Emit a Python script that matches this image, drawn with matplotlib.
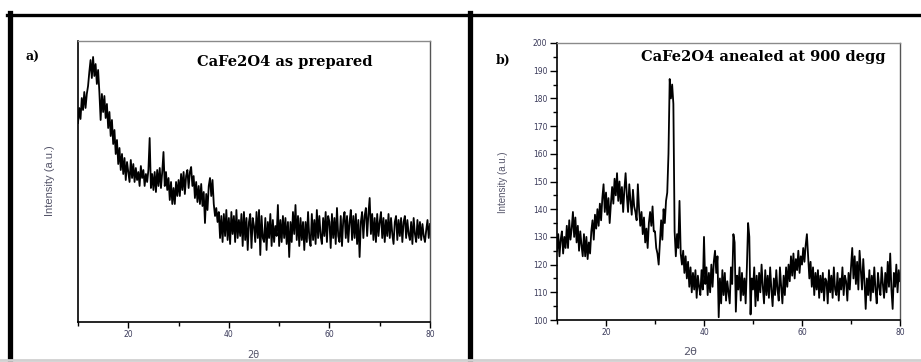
import matplotlib
matplotlib.use("Agg")
import matplotlib.pyplot as plt
import numpy as np
from matplotlib.lines import Line2D
from matplotlib.ticker import MultipleLocator

# ---------------- data ----------------
x_start, x_step = 10.0, 0.25

# panel a) : CaFe2O4 as prepared (arbitrary units)
int_a = [
    199, 214, 203, 224,   212, 230, 214, 228,   236, 250, 262, 244,
    265, 246, 258, 238,   252, 230, 202, 228,   210, 226, 204, 218,
    194, 210, 186, 202,   178, 192, 168, 182,   158, 174, 152, 168,
    148, 164, 142, 160,   150, 140, 162, 144,   158, 140, 154, 142,
    150, 136, 156, 144,   152, 136, 148, 140,   152, 184, 134, 148,
    132, 150, 130, 152,   136, 154, 134, 150,   170, 136, 150, 132,
    144, 122, 140, 118,   134, 118, 140, 126,   142, 126, 148, 132,
    150, 128, 146, 152,   134, 150, 155, 136,   146, 124, 140, 120,
    136, 118, 138, 116,   130, 99, 128, 112,    136, 144, 126, 142,
    118, 106, 114, 100,   110, 84, 106, 80,    108, 86, 112, 82,
    104, 78, 110, 88,     106, 80, 112, 84,    102, 86, 108, 76,
    110, 82, 104, 72,     100, 108, 74, 104,   96, 80, 110, 84,
    112, 67, 106, 84,     80, 104, 72, 100,    84, 108, 76, 102,
    80, 96, 86, 117,      76, 102, 80, 106,    84, 104, 78, 100,
    65, 100, 80, 110,     88, 117, 82, 106,    76, 104, 82, 100,
    72, 100, 80, 110,     84, 76, 108, 82,     102, 78, 112, 84,
    106, 86, 78, 104,     86, 110, 80, 106,    100, 74, 108, 84,
    104, 78, 114, 86,     80, 106, 76, 102,    110, 84, 106, 80,
    100, 112, 82, 106,    84, 108, 78, 102,    65, 100, 110, 84,
    106, 114, 86, 108,    124, 88, 108, 82,    104, 80, 108, 86,
    100, 110, 84, 104,    80, 102, 86, 108,    84, 104, 88, 78,
    100, 106, 82, 102,    86, 104, 80, 100,    106, 84, 102, 88,
    82, 100, 78, 104,     88, 80, 102, 84,     100, 82, 98, 86,
    80, 92, 102, 84,      98,
]

# panel b) : CaFe2O4 annealed at 900 deg
int_b = [
    125, 131, 123, 129,   132, 124, 130, 126,   134, 126, 136, 129,
    133, 139, 130, 137,   128, 134, 125, 132,   127, 123, 131, 123,
    130, 122, 128, 124,   132, 136, 129, 138,   133, 140, 134, 142,
    136, 144, 149, 139,   146, 138, 144, 135,   142, 148, 142, 151,
    145, 153, 143, 150,   142, 148, 139, 147,   153, 145, 139, 149,
    143, 138, 147, 141,   139, 136, 149, 140,   134, 139, 131, 137,
    128, 133, 126, 135,   139, 134, 141, 132,   132, 126, 124, 120,
    128, 136, 129, 140,   135, 143, 146, 160,   187, 180, 185, 178,
    132, 123, 131, 126,   143, 124, 120, 125,   117, 123, 115, 121,
    112, 119, 110, 117,   111, 118, 108, 116,   112, 109, 118, 111,
    130, 113, 119, 109,   117, 110, 120, 112,   121, 125, 117, 123,
    101, 115, 106, 118,   109, 117, 107, 114,   110, 106, 119, 113,
    131, 128, 103, 116,   111, 119, 107, 117,   109, 115, 106, 119,
    135, 130, 102, 115,   111, 119, 105, 116,   107, 117, 110, 120,
    112, 106, 118, 109,   116, 108, 119, 111,   105, 115, 109, 118,
    111, 107, 119, 112,   106, 116, 109, 119,   112, 120, 114, 123,
    116, 124, 115, 122,   118, 125, 117, 123,   120, 126, 121, 127,
    131, 123, 115, 121,   112, 119, 109, 117,   111, 118, 108, 116,
    110, 117, 107, 115,   114, 106, 118, 110,   116, 108, 119, 111,
    109, 117, 107, 115,   111, 119, 109, 116,   114, 107, 117, 111,
    119, 126, 115, 123,   113, 121, 111, 125,   118, 111, 122, 114,
    104, 115, 109, 118,   107, 116, 110, 119,   111, 106, 117, 112,
    109, 119, 113, 108,   117, 110, 121, 112,   124, 111, 104, 117,
    112, 120, 110, 118,   114,
]

x_ticks = [20, 40, 60, 80]
y_ticks_b = [100, 110, 120, 130, 140, 150, 160, 170, 180, 190, 200]
title_a = "CaFe2O4 as prepared"
title_b = "CaFe2O4 anealed at 900 degg"

tth_a = x_start + x_step * np.arange(len(int_a))
tth_b = x_start + x_step * np.arange(len(int_b))

# ---------------- figure ----------------
W, H = 921, 362
fig = plt.figure(figsize=(W / 100, H / 100), dpi=100)
fig.patch.set_facecolor("white")

tick_col = "#3a3a5a"
lab_col = "#55556a"

def setup_axes(ax):
    for s in ["left", "bottom"]:
        ax.spines[s].set_color("black")
        ax.spines[s].set_linewidth(1.2)
    ax.spines["top"].set_color("#8a8a8a")
    ax.spines["top"].set_linewidth(1.0)
    ax.spines["right"].set_color("#555555")
    ax.spines["right"].set_linewidth(1.0)
    ax.set_xlim(10, 80)
    ax.xaxis.set_major_locator(plt.FixedLocator(x_ticks))
    ax.xaxis.set_minor_locator(MultipleLocator(10))
    ax.tick_params(axis="x", which="major", direction="out", length=4,
                   width=1.0, labelsize=5.5, labelcolor=tick_col, pad=2)
    ax.tick_params(axis="x", which="minor", direction="out", length=3,
                   width=1.0)
    ax.tick_params(top=False, right=False)

# panel a
axa = fig.add_axes([78 / W, 1 - 322 / H, 352 / W, 281 / H])
axa.plot(tth_a, int_a, color="black", lw=1.3)
setup_axes(axa)
axa.set_ylim(0, 281)
axa.set_yticks([])
axa.text(0.588, 0.925, title_a, transform=axa.transAxes, ha="center",
         va="center", fontsize=10.5, fontweight="bold", family="DejaVu Serif")

# panel b
axb = fig.add_axes([557 / W, 1 - 320 / H, 343 / W, 277 / H])
axb.plot(tth_b, int_b, color="black", lw=1.3)
setup_axes(axb)
axb.set_ylim(100, 200)
axb.set_yticks(y_ticks_b)
axb.yaxis.set_minor_locator(MultipleLocator(5))
axb.tick_params(axis="y", which="major", direction="out", length=5,
                width=1.0, labelsize=5.5, labelcolor=tick_col, pad=2)
axb.tick_params(axis="y", which="minor", direction="out", length=3, width=1.0)
axb.text(0.60, 0.949, title_b, transform=axb.transAxes, ha="center",
         va="center", fontsize=10.5, fontweight="bold", family="DejaVu Serif")

# panel letters
fig.text(33 / W, 1 - 57 / H, "a)", ha="center", va="center", fontsize=9,
         fontweight="bold", family="DejaVu Serif")
fig.text(503 / W, 1 - 60 / H, "b)", ha="center", va="center", fontsize=9,
         fontweight="bold", family="DejaVu Serif")

# axis labels
fig.text(50 / W, 1 - 181 / H, "Intensity (a.u.)", rotation=90, ha="center",
         va="center", fontsize=8, color=lab_col, family="Liberation Sans")
fig.text(503 / W, 1 - 182 / H, "Intensity (a.u.)", rotation=90, ha="center",
         va="center", fontsize=7, color=lab_col, family="Liberation Sans")
fig.text(253 / W, 1 - 355 / H, "2θ", ha="center", va="center", fontsize=7,
         color=lab_col, family="DejaVu Sans")
fig.text(690 / W, 1 - 352 / H, "2θ", ha="center", va="center", fontsize=8,
         color=lab_col, family="DejaVu Sans")

# outer frame lines
fig.add_artist(Line2D([7 / W, 1.0], [1 - 14.5 / H, 1 - 14.5 / H],
                      transform=fig.transFigure, color="black", lw=2.4))
fig.add_artist(Line2D([10 / W, 10 / W], [0, 1 - 13 / H],
                      transform=fig.transFigure, color="black", lw=3.8))
fig.add_artist(Line2D([470 / W, 470 / W], [0, 1 - 13 / H],
                      transform=fig.transFigure, color="black", lw=3.8))
fig.add_artist(Line2D([0, 1.0], [1 - 359.5 / H, 1 - 359.5 / H],
                      transform=fig.transFigure, color="#d0d0d0", lw=2.0))

fig.savefig("out.png", dpi=100, facecolor="white")
